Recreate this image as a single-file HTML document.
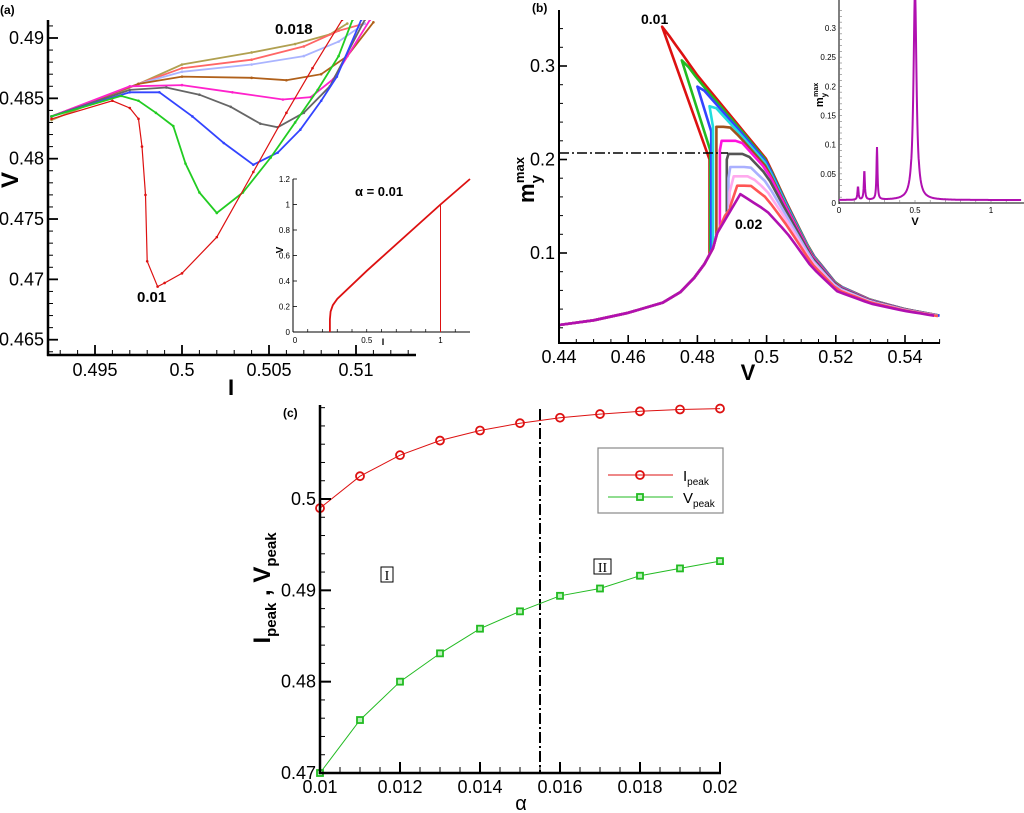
<!DOCTYPE html>
<html><head><meta charset="utf-8"><style>
body{margin:0;background:#fff;}
svg{display:block;font-family:"Liberation Sans",Arial,sans-serif;}
</style></head><body>
<svg id="fig" width="1024" height="813" viewBox="0 0 1024 813" xmlns="http://www.w3.org/2000/svg"></svg>
<script>
// ---------- Panel (a) data ----------
const aAlphas = ["0.01","0.011","0.012","0.013","0.014","0.015","0.016","0.017","0.018"];
const aColors = ["#dd1111","#22cc22","#3344ff","#666666","#ff22cc","#b0601a","#aab4ff","#ff6666","#b0a050"];
const aI = [
 [0.4925,0.496,0.497,0.4975,0.4977,0.4979,0.498,0.4986,0.499,0.5,0.502,0.5041,0.506,0.5075,0.5092],
 [0.4925,0.4965,0.4975,0.4985,0.4995,0.5002,0.501,0.502,0.5035,0.5051,0.5065,0.5078,0.509,0.5098],
 [0.4925,0.497,0.4987,0.5006,0.5024,0.5041,0.5055,0.5068,0.508,0.5089,0.5103],
 [0.4925,0.497,0.4991,0.501,0.5028,0.5045,0.5055,0.507,0.5085,0.5105],
 [0.4925,0.497,0.5,0.5029,0.5058,0.5074,0.5087,0.5108],
 [0.4925,0.4975,0.5,0.504,0.506,0.508,0.5095,0.511],
 [0.4925,0.4975,0.5,0.504,0.507,0.509,0.5105],
 [0.4925,0.4975,0.5,0.504,0.507,0.509,0.5105],
 [0.4925,0.4975,0.5,0.504,0.5065,0.5085,0.5095]
];
const aV = [
 [0.4833,0.4848,0.4842,0.4833,0.481,0.477,0.4715,0.4694,0.4697,0.4705,0.4735,0.4789,0.4838,0.4875,0.4915],
 [0.4835,0.4852,0.4848,0.4838,0.4827,0.4796,0.4772,0.4755,0.4772,0.4801,0.483,0.4857,0.4885,0.4915],
 [0.4835,0.4855,0.4855,0.4835,0.4813,0.4795,0.4805,0.4824,0.4848,0.4868,0.4915],
 [0.4835,0.4857,0.4859,0.4853,0.4843,0.4829,0.4826,0.4838,0.486,0.4915],
 [0.4835,0.486,0.4861,0.4855,0.4849,0.4851,0.4866,0.4915],
 [0.4835,0.4862,0.4868,0.4867,0.4865,0.487,0.4885,0.4913],
 [0.4835,0.4862,0.4872,0.4878,0.4885,0.4897,0.4912],
 [0.4835,0.4862,0.4875,0.4882,0.4893,0.4906,0.4912],
 [0.4832,0.4862,0.4878,0.4888,0.4895,0.4903,0.4912]
];
const aXTicks = [0.495,0.5,0.505,0.51];
const aXTickLabels = ["0.495","0.5","0.505","0.51"];
const aYTicks = [0.465,0.47,0.475,0.48,0.485,0.49];
const aYTickLabels = ["0.465","0.47","0.475","0.48","0.485","0.49"];
const insAI = [0.25,0.25,0.255,0.27,0.3,0.5,1.0,1.2];
const insAV = [0,0.1,0.16,0.21,0.26,0.48,1.0,1.2];
const insATicks = [0,0.2,0.4,0.6,0.8,1,1.2];
const insATickLabels = ["0","0.2","0.4","0.6","0.8","1","1.2"];
const insAXTicks = [0,0.5,1];
const insAXTickLabels = ["0","0.5","1"];

// ---------- Panel (b) data ----------
const bColors = ["#dd1111","#22bb22","#3344ff","#22dddd","#a0521d","#ff11dd","#555555","#aab0ff","#ffaaee","#ff5555","#b010b0"];
const bPeakV = [0.4698,0.4755,0.48,0.4835,0.4855,0.487,0.489,0.4895,0.4905,0.4915,0.4924];
const bPeakM = [0.342,0.306,0.278,0.257,0.235,0.22,0.206,0.192,0.182,0.172,0.163];
const bLeftV = [0.4835,0.4837,0.484,0.4845,0.4855,0.4865,0.4885,0.489,0.4893,0.4895,0.4857];
const bLeftTop = [0.2,0.21,0.23,0.235,0.225,0.21,0.2,0.18,0.165,0.15,0.121];
const bRightW = [1,0.97,0.94,0.9,0.85,0.8,0.7,0.55,0.4,0.25,0];
const bTailV = [0.44,0.45,0.46,0.47,0.475,0.479,0.482,0.4845,0.4857,0.488,0.49];
const bTailM = [0.023,0.028,0.036,0.047,0.058,0.073,0.088,0.105,0.121,0.14,0.15];
const bUpV = [0.47,0.48,0.49,0.5,0.506,0.513,0.5204,0.53,0.54,0.55];
const bUpM = [0.342,0.29,0.245,0.2,0.152,0.1,0.066,0.05,0.04,0.033];
const bLowV = [0.47,0.48,0.49,0.4924,0.5,0.506,0.513,0.5204,0.53,0.54,0.55];
const bLowM = [0.16,0.16,0.16,0.163,0.145,0.121,0.085,0.059,0.046,0.038,0.032];
const bXTicks = [0.44,0.46,0.48,0.5,0.52,0.54];
const bXTickLabels = ["0.44","0.46","0.48","0.5","0.52","0.54"];
const bYTicks = [0.1,0.2,0.3];
const bYTickLabels = ["0.1","0.2","0.3"];
const insBPeakPos = [0.125,0.167,0.25,0.5];
const insBPeakH = [0.022,0.05,0.09,0.36];
const insBYTicks = [0,0.05,0.1,0.15,0.2,0.25,0.3];
const insBYTickLabels = ["0","0.05","0.1","0.15","0.2","0.25","0.3"];
const insBXTicks = [0,0.5,1];
const insBXTickLabels = ["0","0.5","1"];

// ---------- Panel (c) data ----------
const cAlpha = [0.01,0.011,0.012,0.013,0.014,0.015,0.016,0.017,0.018,0.019,0.02];
const cIpeak = [0.499,0.5025,0.5048,0.5064,0.5075,0.5083,0.5089,0.5093,0.5096,0.5098,0.5099];
const cVpeak = [0.47,0.4758,0.48,0.4831,0.4858,0.4877,0.4894,0.4902,0.4916,0.4924,0.4932];
const cXTicks = [0.01,0.012,0.014,0.016,0.018,0.02];
const cXTickLabels = ["0.01","0.012","0.014","0.016","0.018","0.02"];
const cYTicks = [0.47,0.48,0.49,0.5];
const cYTickLabels = ["0.47","0.48","0.49","0.5"];
const cBoundary = 0.0155;

const NS="http://www.w3.org/2000/svg";
const svg=document.getElementById('fig');
function el(tag,attrs,parent,text){const e=document.createElementNS(NS,tag);for(const k in attrs)e.setAttribute(k,attrs[k]);if(text!==undefined)e.textContent=text;(parent||svg).appendChild(e);return e;}
function lin(d0,d1,p0,p1){return v=>p0+(v-d0)/(d1-d0)*(p1-p0);}
function interp(xs,ys,x){if(x<=xs[0])return ys[0];for(let i=1;i<xs.length;i++){if(x<=xs[i]){const t=(x-xs[i-1])/(xs[i]-xs[i-1]);return ys[i-1]+t*(ys[i]-ys[i-1]);}}return ys[ys.length-1];}
function txt(x,y,s,size,parent,anchor,weight){return el('text',{x:x,y:y,'font-size':size,'text-anchor':anchor||'middle','font-weight':weight||'normal',fill:'#000'},parent,s);}

// ================= PANEL A =================
const gA=el('g',{});


const ax=lin(0.495,0.505,95,269), ay=lin(0.465,0.49,339.7,38);
const aClip=el('clipPath',{id:'clipA'},gA); el('rect',{x:48,y:20,width:368,height:335},aClip);
const aLines=el('g',{'clip-path':'url(#clipA)'},gA);
for(let k=aI.length-1;k>=0;k--){
  let d='';aI[k].forEach((v,i)=>{d+=(i?'L':'M')+ax(v).toFixed(1)+','+ay(aV[k][i]).toFixed(1);});
  const p=el('path',{d:d,fill:'none',stroke:aColors[k],'stroke-width':k===0?1.2:1.8},aLines);
  
  
  aI[k].forEach((v,i)=>{const c=el('circle',{cx:ax(v),cy:ay(aV[k][i]),r:1.3,fill:aColors[k]},aLines);
    
    });
}
el('line',{x1:48,y1:20,x2:48,y2:356,stroke:'#000','stroke-width':2.5},gA);
el('line',{x1:47,y1:355,x2:416,y2:355,stroke:'#000','stroke-width':2.5},gA);
for(let v=0.493;v<=0.5135;v+=0.001){const x=ax(v);if(x<49)continue;const maj=aXTicks.some(t=>Math.abs(t-v)<1e-6);el('line',{x1:x,y1:355,x2:x,y2:maj?345:350,stroke:'#000','stroke-width':maj?1.8:1},gA);}
for(let v=0.464;v<=0.4915;v+=0.001){const y=ay(v);if(y<20)continue;const maj=aYTicks.some(t=>Math.abs(t-v)<1e-6);el('line',{x1:48,y1:y,x2:maj?58:53,y2:y,stroke:'#000','stroke-width':maj?1.8:1},gA);}
aXTicks.forEach((t,i)=>txt(ax(t),376,aXTickLabels[i],18,gA));
aYTicks.forEach((t,i)=>txt(44,ay(t)+6,aYTickLabels[i],18,gA,'end'));
let t1=txt(231,395,'I',22,gA,'middle','bold');
let t2=el('text',{x:0,y:0,'font-size':24,'font-weight':'bold','text-anchor':'middle',transform:'translate(18,180) rotate(-90)'},gA,'V');
txt(0,14,'(a)',12,gA,'start','bold');
txt(275,34,'0.018',15,gA,'start','bold');
txt(137,302,'0.01',15,gA,'start','bold');
// inset a
const ix=lin(0,1.2,293,470), iy=lin(0,1.2,332,179);
const gIA=el('g',{},gA);


el('line',{x1:293,y1:179,x2:293,y2:332,stroke:'#000','stroke-width':1},gIA);
el('line',{x1:293,y1:332,x2:470,y2:332,stroke:'#000','stroke-width':1},gIA);
insATicks.forEach((t,i)=>{el('line',{x1:293,y1:iy(t),x2:297,y2:iy(t),stroke:'#000','stroke-width':0.8},gIA);txt(290,iy(t)+3,insATickLabels[i],8,gIA,'end');});
for(let v=0.1;v<1.2;v+=0.1)el('line',{x1:ix(v),y1:332,x2:ix(v),y2:329,stroke:'#000','stroke-width':0.7},gIA);
insAXTicks.forEach((t,i)=>txt(ix(t)+(i==0?2:0),343,insAXTickLabels[i],8,gIA));
txt(383,345,'I',9,gIA,'middle','bold');
el('text',{x:0,y:0,'font-size':10,'font-weight':'bold','text-anchor':'middle',transform:'translate(283,250) rotate(-90)'},gIA,'V');
let dA='';insAI.forEach((v,i)=>{dA+=(i?'L':'M')+ix(v).toFixed(1)+','+iy(insAV[i]).toFixed(1);});
el('path',{d:dA,fill:'none',stroke:'#dd1111','stroke-width':1.8},gIA);
el('line',{x1:ix(1),y1:iy(0),x2:ix(1),y2:iy(1),stroke:'#dd1111','stroke-width':1},gIA);
txt(355,196,'α = 0.01',13,gIA,'start','bold');

// ================= PANEL B =================
const gB=el('g',{});


const bx=lin(0.44,0.54,559,905), by=lin(0.1,0.3,253,66);
const bClip=el('clipPath',{id:'clipB'},gB); el('rect',{x:559,y:10,width:381,height:333},bClip);
const bLines=el('g',{'clip-path':'url(#clipB)'},gB);
for(let k=0;k<bPeakV.length;k++){
  const pts=[];
  const lv=bLeftV[k];
  bTailV.forEach((v,i)=>{if(v<lv)pts.push([v,bTailM[i]]);});
  const baseM=interp(bTailV,bTailM,lv);
  pts.push([lv,baseM]);
  if(bLeftTop[k]>baseM)pts.push([lv,bLeftTop[k]]);
  pts.push([bPeakV[k],bPeakM[k]]);
  for(let v=bPeakV[k]+0.002;v<=0.5501;v+=0.002){
    const lo=interp(bLowV,bLowM,v), up=interp(bUpV,bUpM,v);
    pts.push([v,Math.min(bPeakM[k],lo+(up-lo)*bRightW[k])]);
  }
  let d='';pts.forEach((p,i)=>{d+=(i?'L':'M')+bx(p[0]).toFixed(1)+','+by(p[1]).toFixed(1);});
  const p=el('path',{d:d,fill:'none',stroke:bColors[k],'stroke-width':2.6,'stroke-linejoin':'round'},bLines);
  
  
}
el('line',{x1:559,y1:10,x2:559,y2:344,stroke:'#000','stroke-width':2},gB);
el('line',{x1:558,y1:343,x2:940,y2:343,stroke:'#000','stroke-width':2},gB);
for(let v=0.44;v<=0.5501;v+=0.005){const x=bx(v);const maj=bXTicks.some(t=>Math.abs(t-v)<1e-6);el('line',{x1:x,y1:343,x2:x,y2:maj?335:339,stroke:'#000','stroke-width':maj?1.6:1},gB);}
for(let v=0.02;v<=0.34;v+=0.02){const y=by(v);const maj=bYTicks.some(t=>Math.abs(t-v)<1e-6);el('line',{x1:559,y1:y,x2:maj?567:563,y2:y,stroke:'#000','stroke-width':maj?1.6:1},gB);}
bXTicks.forEach((t,i)=>txt(bx(t),363,bXTickLabels[i],18,gB));
bYTicks.forEach((t,i)=>txt(555,by(t)+6,bYTickLabels[i],18,gB,'end'));
let t3=txt(748,380,'V',22,gB,'middle','bold');
const yb=el('text',{x:0,y:0,'font-size':22,'font-weight':'bold','text-anchor':'middle',transform:'translate(534,180) rotate(-90)'},gB);

yb.innerHTML='m<tspan dy="7" font-size="15">y</tspan><tspan dy="-17" dx="-8" font-size="13">max</tspan>';
el('line',{x1:559,y1:153,x2:728,y2:153,stroke:'#000','stroke-width':1.6,'stroke-dasharray':'10 3 2 3'},gB);
txt(532,12,'(b)',12,gB,'start','bold');
txt(641,24,'0.01',14,gB,'start','bold');
txt(735,229,'0.02',14,gB,'start','bold');
// inset b
const jx=lin(0,1,839,991), jy=lin(0,0.3,203,28);
const gIB=el('g',{},gB);


const ibClip=el('clipPath',{id:'clipIB'},gIB); el('rect',{x:839,y:0,width:185,height:204},ibClip);
el('line',{x1:839,y1:0,x2:839,y2:204,stroke:'#000','stroke-width':1},gIB);
el('line',{x1:839,y1:203,x2:1024,y2:203,stroke:'#000','stroke-width':1},gIB);
for(let v=0.01;v<=0.34;v+=0.01)el('line',{x1:839,y1:jy(v),x2:842,y2:jy(v),stroke:'#777','stroke-width':0.6},gIB);
insBYTicks.forEach((t,i)=>txt(836,jy(t)+3,insBYTickLabels[i],8,gIB,'end'));
for(let v=0.1;v<1.2;v+=0.1)el('line',{x1:jx(v),y1:203,x2:jx(v),y2:200,stroke:'#777','stroke-width':0.6},gIB);
insBXTicks.forEach((t,i)=>txt(jx(t),213,insBXTickLabels[i],8,gIB));
txt(915,225,'V',11,gIB,'middle','bold');
const yib=el('text',{x:0,y:0,'font-size':11,'font-weight':'bold','text-anchor':'middle',transform:'translate(823,95) rotate(-90)'},gIB);
yib.innerHTML='m<tspan dy="4" font-size="8">y</tspan><tspan dy="-9" dx="-4" font-size="7">max</tspan>';
let dB='';let first=true;
for(let v=0;v<=1.2;v+=0.002){let m=0.005;insBPeakPos.forEach((p,i)=>{const w=i===3?0.012:0.004;m+=insBPeakH[i]*w*w/((v-p)*(v-p)+w*w);});dB+=(first?'M':'L')+jx(v).toFixed(1)+','+jy(m).toFixed(1);first=false;}
el('path',{d:dB,fill:'none',stroke:'#b010b0','stroke-width':2,'clip-path':'url(#clipIB)'},gIB);

// ================= PANEL C =================
const gC=el('g',{});


const cx=lin(0.01,0.02,320,720), cy=lin(0.47,0.5,773,499);
el('line',{x1:cx(cBoundary),y1:409,x2:cx(cBoundary),y2:773,stroke:'#000','stroke-width':2,'stroke-dasharray':'11 3 2 3'},gC);
function series(vals,color,marker,name){
  let d='';cAlpha.forEach((a,i)=>{d+=(i?'L':'M')+cx(a).toFixed(1)+','+cy(vals[i]).toFixed(1);});
  const p=el('path',{d:d,fill:'none',stroke:color,'stroke-width':1},gC);
  
  
  cAlpha.forEach((a,i)=>{let m;
    if(marker==='circle')m=el('circle',{cx:cx(a),cy:cy(vals[i]),r:4,fill:'none',stroke:color,'stroke-width':1.8},gC);
    else m=el('rect',{x:cx(a)-3,y:cy(vals[i])-3,width:6,height:6,fill:'#bff0bf',stroke:color,'stroke-width':1.8},gC);
    
    });
}
series(cIpeak,'#dd1111','circle','i-peak');
series(cVpeak,'#22bb22','square','v-peak');
el('line',{x1:320,y1:405,x2:320,y2:774,stroke:'#000','stroke-width':2.5},gC);
el('line',{x1:319,y1:773,x2:721,y2:773,stroke:'#000','stroke-width':2.5},gC);
for(let v=0.01;v<=0.02001;v+=0.0005){const x=cx(v);const maj=cXTicks.some(t=>Math.abs(t-v)<1e-7);el('line',{x1:x,y1:773,x2:x,y2:maj?762:767,stroke:'#000','stroke-width':maj?2:1},gC);}
for(let v=0.47;v<=0.5101;v+=0.002){const y=cy(v);const maj=cYTicks.some(t=>Math.abs(t-v)<1e-7);el('line',{x1:320,y1:y,x2:maj?331:325,y2:y,stroke:'#000','stroke-width':maj?2:1},gC);}
cXTicks.forEach((t,i)=>txt(cx(t),793,cXTickLabels[i],18,gC));
cYTicks.forEach((t,i)=>txt(316,cy(t)+6,cYTickLabels[i],18,gC,'end'));
let t5=txt(521,810,'α',20,gC);
const yc=el('text',{x:0,y:0,'font-size':24,'font-weight':'bold','text-anchor':'middle',transform:'translate(270,588) rotate(-90)'},gC);

yc.innerHTML='I<tspan dy="6" font-size="15">peak</tspan><tspan dy="-6"> , V</tspan><tspan dy="6" font-size="15">peak</tspan>';
txt(283,417,'(c)',12,gC,'start','bold');
// region labels
const r1=el('g',{},gC);
el('rect',{x:381,y:567,width:12,height:15,fill:'none',stroke:'#000','stroke-width':1},r1);
el('text',{x:387,y:580,'font-size':14,'text-anchor':'middle','font-family':'Liberation Serif, serif'},r1,'I');
const r2=el('g',{},gC);
el('rect',{x:594,y:559,width:17,height:15,fill:'none',stroke:'#000','stroke-width':1},r2);
el('text',{x:602.5,y:572,'font-size':14,'text-anchor':'middle','font-family':'Liberation Serif, serif'},r2,'II');
// legend
const lg=el('g',{},gC);
el('rect',{x:598,y:448,width:125,height:65,fill:'#fff',stroke:'#888','stroke-width':1.2},lg);
const le1=el('g',{},lg);
el('line',{x1:608,y1:475,x2:673,y2:475,stroke:'#dd1111','stroke-width':1},le1);
el('circle',{cx:640,cy:475,r:4,fill:'none',stroke:'#dd1111','stroke-width':1.8},le1);
const l1=el('text',{x:683,y:481,'font-size':15},le1);l1.innerHTML='I<tspan dy="4" font-size="10">peak</tspan>';
const le2=el('g',{},lg);
el('line',{x1:608,y1:497,x2:673,y2:497,stroke:'#22bb22','stroke-width':1},le2);
el('rect',{x:637,y:494,width:6,height:6,fill:'#bff0bf',stroke:'#22bb22','stroke-width':1.8},le2);
const l2=el('text',{x:683,y:503,'font-size':15},le2);l2.innerHTML='V<tspan dy="4" font-size="10">peak</tspan>';
</script>
</body></html>
